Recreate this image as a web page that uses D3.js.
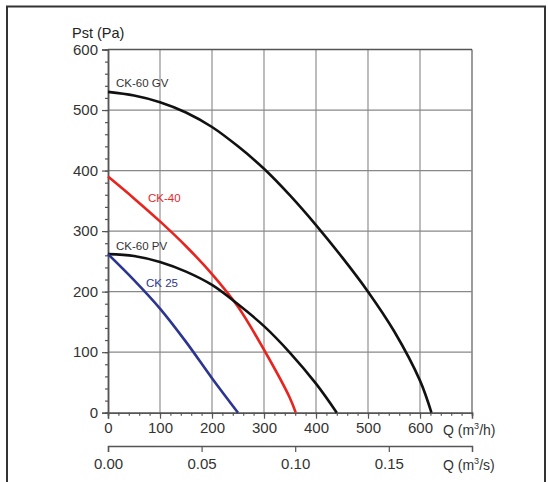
<!DOCTYPE html>
<html>
  <head>
    <meta charset="utf-8">
    <title>Fan curves</title>
    <script src="https://cdnjs.cloudflare.com/ajax/libs/d3/7.8.5/d3.min.js"></script>
    <style>
      body { margin: 0; background: #fff; }
      text { font-family: "Liberation Sans", Arial, sans-serif; }
    </style>
  </head>
  <body>
    <div id="chart"></div>
    <script type="text/javascript">
      // curve data, Q in m3/h, Pst in Pa
      var gvQ = [0, 50, 100, 150, 200, 250, 300, 350, 400, 450, 500, 550, 600, 622];
      var gvP = [530, 524, 513, 496, 472, 440, 403, 359, 310, 257, 200, 135, 53, 0];
      var ck40Q = [0, 50, 100, 150, 200, 250, 300, 350, 361];
      var ck40P = [390, 354, 316, 275, 229, 175, 104, 24, 0];
      var pvQ = [0, 50, 100, 150, 200, 250, 300, 350, 400, 440];
      var pvP = [262, 259, 249, 233, 211, 179, 143, 99, 48, 0];
      var ck25Q = [0, 50, 100, 150, 200, 250];
      var ck25P = [262, 219, 172, 117, 57, 0];

      var yTicks = [0, 100, 200, 300, 400, 500, 600];
      var xTicks = [0, 100, 200, 300, 400, 500, 600];
      var sTicks = [0, 0.05, 0.10, 0.15];

      var w = 548, h = 482;

      var svg = d3.select("#chart")
        .append("svg")
        .attr("width", w)
        .attr("height", h);

      // outer frame
      svg.append("rect")
        .attr("x", 7).attr("y", 6.5)
        .attr("width", 538).attr("height", 500)
        .style("fill", "none")
        .style("stroke", "#333")
        .style("stroke-width", 2);

      var x = d3.scaleLinear().domain([0, 700]).range([108, 472]);
      var y = d3.scaleLinear().domain([0, 600]).range([412.7, 49.5]);
      var xs = d3.scaleLinear().domain([0, 700 / 3600]).range([108, 472]);

      // grid
      svg.selectAll("line.vgrid")
        .data(xTicks.slice(1).concat([700]))
        .enter()
        .append("line")
        .attr("x1", function(d) { return x(d); })
        .attr("x2", function(d) { return x(d); })
        .attr("y1", y(0))
        .attr("y2", y(600))
        .style("stroke", function(d) { return d == 700 ? "#666" : "#999"; })
        .style("stroke-width", 1.3);

      svg.selectAll("line.hgrid")
        .data(yTicks.slice(1))
        .enter()
        .append("line")
        .attr("x1", x(0))
        .attr("x2", x(700))
        .attr("y1", function(d) { return y(d); })
        .attr("y2", function(d) { return y(d); })
        .style("stroke", function(d) { return d == 600 ? "#555" : "#888"; })
        .style("stroke-width", 1.3);

      // minor ticks
      svg.append("g")
        .attr("transform", "translate(" + x(0) + ",0)")
        .call(d3.axisLeft(y).tickValues(d3.range(0, 601, 20)).tickSize(3).tickFormat(""));
      svg.append("g")
        .attr("transform", "translate(0," + y(0) + ")")
        .call(d3.axisBottom(x).tickValues(d3.range(0, 701, 20)).tickSize(3).tickFormat(""));

      // major axes
      svg.append("g")
        .attr("transform", "translate(" + x(0) + ",0)")
        .call(d3.axisLeft(y).tickValues(yTicks).tickSize(6).tickPadding(4));
      svg.append("g")
        .attr("transform", "translate(0," + y(0) + ")")
        .call(d3.axisBottom(x).tickValues(xTicks).tickSize(6).tickPadding(4));
      svg.append("g")
        .attr("transform", "translate(0,446)")
        .call(d3.axisBottom(xs).tickValues(sTicks).tickSize(6).tickPadding(6)
          .tickFormat(d3.format(".2f")));

      svg.selectAll(".domain").style("stroke", "#555").style("stroke-width", 1.5);
      svg.selectAll(".tick line").style("stroke", "#555").style("stroke-width", 1.2);
      svg.selectAll(".tick text")
        .style("font-size", "15px")
        .style("fill", "#333")
        .style("font-family", "'Liberation Sans', Arial, sans-serif");

      // axis titles
      svg.append("text")
        .attr("x", 72).attr("y", 38)
        .style("font-size", "14.5px").style("fill", "#222")
        .text("Pst (Pa)");

      var t1 = svg.append("text")
        .attr("x", 443).attr("y", 435)
        .style("font-size", "14px").style("fill", "#333");
      t1.append("tspan").text("Q (m");
      t1.append("tspan").attr("dy", -6).style("font-size", "9px").text("3");
      t1.append("tspan").attr("dy", 6).text("/h)");

      var t2 = svg.append("text")
        .attr("x", 443).attr("y", 470)
        .style("font-size", "14px").style("fill", "#333");
      t2.append("tspan").text("Q (m");
      t2.append("tspan").attr("dy", -6).style("font-size", "9px").text("3");
      t2.append("tspan").attr("dy", 6).text("/s)");

      // curves
      var line = d3.line()
        .x(function(d) { return x(d[0]); })
        .y(function(d) { return y(d[1]); })
        .curve(d3.curveCatmullRom.alpha(0.5));

      var curves = [
        { q: gvQ, p: gvP, color: "#111" },
        { q: ck40Q, p: ck40P, color: "#e8241f" },
        { q: pvQ, p: pvP, color: "#111" },
        { q: ck25Q, p: ck25P, color: "#2c3591" }
      ];

      svg.selectAll("path.curve")
        .data(curves)
        .enter()
        .append("path")
        .attr("d", function(c) { return line(d3.zip(c.q, c.p)); })
        .style("fill", "none")
        .style("stroke", function(c) { return c.color; })
        .style("stroke-width", 2.6);

      // curve labels
      var labels = [
        { text: "CK-60 GV", x: 116, y: 86.5, color: "#333" },
        { text: "CK-40", x: 148, y: 202, color: "#e8241f" },
        { text: "CK-60 PV", x: 116, y: 250, color: "#333" },
        { text: "CK 25", x: 146, y: 287, color: "#2c3591" }
      ];
      svg.selectAll("text.lbl")
        .data(labels)
        .enter()
        .append("text")
        .attr("x", function(d) { return d.x; })
        .attr("y", function(d) { return d.y; })
        .style("font-size", "11.5px")
        .style("fill", function(d) { return d.color; })
        .text(function(d) { return d.text; });
    </script>
  </body>
</html>
